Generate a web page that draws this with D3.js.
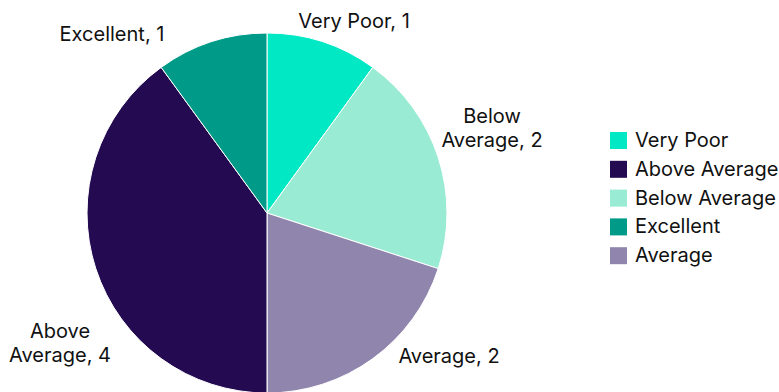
<!DOCTYPE html>
<html>
<head>
<meta charset="utf-8">
<script src="https://cdn.jsdelivr.net/npm/d3@7"></script>
<style>
  html, body { margin: 0; padding: 0; background: #ffffff; }
  svg { display: block; font-family: Inter, "Noto Sans", sans-serif; }
</style>
</head>
<body>
<svg id="chart" width="779" height="392"></svg>
<script>
// Ratings, in the order the slices run clockwise from 12 o'clock
const categories = ["Very Poor", "Below Average", "Average", "Above Average", "Excellent"];
const counts = [1, 2, 2, 4, 1];

// Legend order
const legendOrder = ["Very Poor", "Above Average", "Below Average", "Excellent", "Average"];

const palette = {
  "Very Poor": "#00e8c4",
  "Below Average": "#99ecd3",
  "Average": "#8f85ad",
  "Above Average": "#230a51",
  "Excellent": "#009b88"
};

// Label text lines and placement (offsets from the pie centre, in px)
const labelLayout = {
  "Very Poor":     { lines: 1, dx: 87,  dy: -192, anchor: "middle" },
  "Below Average": { lines: 2, dx: 225, dy: -85,  anchor: "middle" },
  "Average":       { lines: 1, dx: 182, dy: 143,  anchor: "middle" },
  "Above Average": { lines: 2, dx: -207, dy: 130, anchor: "middle" },
  "Excellent":     { lines: 1, dx: -155, dy: -179, anchor: "middle" }
};

const data = categories.map((c, i) => ({ category: c, value: counts[i] }));

const svg = d3.select("#chart");
const cx = 267, cy = 213, radius = 180;
const fontSize = 20;

const pie = d3.pie().value(d => d.value).sort(null);
const arc = d3.arc().innerRadius(0).outerRadius(radius);
const color = d3.scaleOrdinal().domain(categories).range(categories.map(c => palette[c]));

const g = svg.append("g").attr("transform", `translate(${cx},${cy})`);

const arcs = pie(data);

g.selectAll("path.slice")
  .data(arcs)
  .join("path")
  .attr("class", "slice")
  .attr("d", arc)
  .attr("fill", d => color(d.data.category))
  .attr("stroke", "#ffffff")
  .attr("stroke-width", 1);

// Slice labels: "Category, value", wrapped onto two lines where laid out so
const labels = g.selectAll("text.label")
  .data(arcs)
  .join("text")
  .attr("class", "label")
  .attr("font-size", fontSize)
  .attr("fill", "#111111")
  .attr("text-anchor", d => labelLayout[d.data.category].anchor)
  .attr("transform", d => {
    const L = labelLayout[d.data.category];
    return `translate(${L.dx},${L.dy})`;
  });

labels.each(function(d) {
  const L = labelLayout[d.data.category];
  const full = `${d.data.category}, ${d.data.value}`;
  const t = d3.select(this);
  if (L.lines === 2) {
    const words = d.data.category.split(" ");
    const first = words[0];
    const rest = words.slice(1).join(" ") + `, ${d.data.value}`;
    t.append("tspan").attr("x", 0).attr("dy", "-0.25em").text(first);
    t.append("tspan").attr("x", 0).attr("dy", "1.2em").text(rest);
  } else {
    t.append("tspan").attr("x", 0).attr("dy", "0.35em").text(full);
  }
});

// Legend
const legend = svg.append("g").attr("transform", "translate(610,140)");
const rowH = 28.8;
const items = legend.selectAll("g.item")
  .data(legendOrder)
  .join("g")
  .attr("class", "item")
  .attr("transform", (d, i) => `translate(0,${i * rowH})`);

items.append("rect")
  .attr("x", 0)
  .attr("y", -8)
  .attr("width", 17)
  .attr("height", 17)
  .attr("fill", d => color(d));

items.append("text")
  .attr("x", 25)
  .attr("y", 0)
  .attr("dy", "0.35em")
  .attr("font-size", fontSize)
  .attr("fill", "#111111")
  .text(d => d);
</script>
</body>
</html>
